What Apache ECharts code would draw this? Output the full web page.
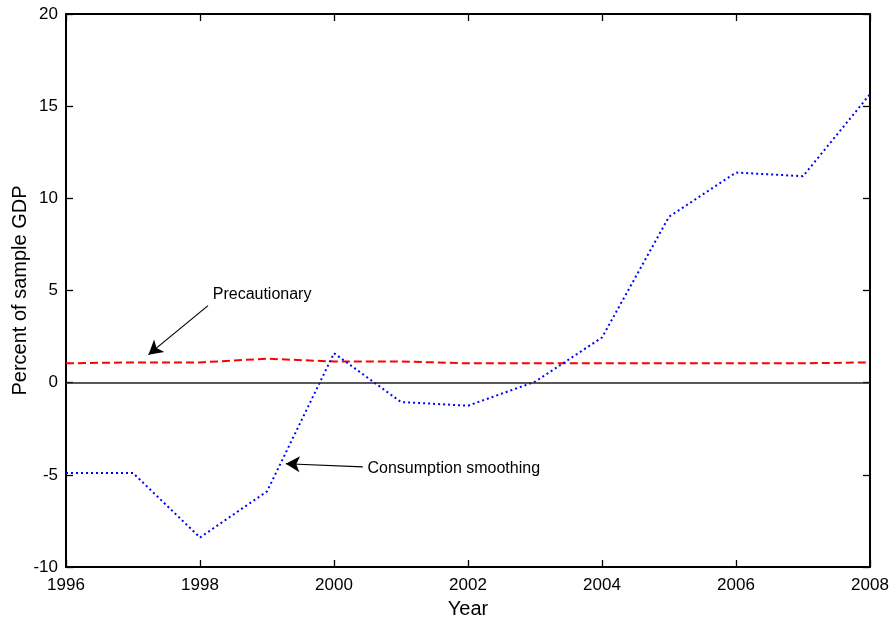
<!DOCTYPE html>
<html><head><meta charset="utf-8">
<script src="https://cdn.jsdelivr.net/npm/echarts@6/dist/echarts.min.js"></script>
<style>html,body{margin:0;padding:0;background:#fff}#c{width:892px;height:628px}</style>
</head><body><div id="c"></div>
<script>
const years = [1996,1997,1998,1999,2000,2001,2002,2003,2004,2005,2006,2007,2008];
const consumption = [-4.9,-4.9,-8.4,-5.9,1.6,-1.05,-1.25,0.05,2.45,9.0,11.4,11.2,15.65];
const precautionary = [1.05,1.1,1.1,1.3,1.15,1.15,1.05,1.05,1.05,1.05,1.05,1.05,1.1];
const yTicks = [-10,-5,0,5,10,15,20];
const xTicks = [1996,1998,2000,2002,2004,2006,2008];
const annPrec = {text:'Precautionary', label:[1998.19,4.78], from:[1998.12,4.18], to:[1997.23,1.52]};
const annCons = {text:'Consumption smoothing', label:[2000.5,-4.67], from:[2000.43,-4.57], to:[1999.28,-4.40]};

const font = 'Liberation Sans, Arial, Helvetica, sans-serif';
const chart = echarts.init(document.getElementById('c'));
const axisBase = {
  axisLine:{show:true,onZero:false,lineStyle:{color:'#000',width:2}},
  axisTick:{show:true,inside:true,length:7,lineStyle:{color:'#000',width:1.3}},
  splitLine:{show:false},
};
const pair = (xs, ys) => xs.map((x,i)=>[x, ys[i]]);
chart.setOption({
  animation:false,
  backgroundColor:'#fff',
  grid:{left:66,right:22,top:14,bottom:61,containLabel:false,outerBoundsMode:'none'},
  xAxis:[
    Object.assign({}, axisBase, {type:'value',min:xTicks[0],max:xTicks[xTicks.length-1],interval:2,position:'bottom',
      name:'Year',nameLocation:'middle',nameGap:32,nameTextStyle:{fontFamily:font,fontSize:20,color:'#000'},
      axisLabel:{fontFamily:font,fontSize:17,color:'#000',margin:10,formatter:v=>String(v)}}),
    Object.assign({}, axisBase, {type:'value',min:xTicks[0],max:xTicks[xTicks.length-1],interval:2,position:'top',axisLabel:{show:false}})
  ],
  yAxis:[
    Object.assign({}, axisBase, {type:'value',min:yTicks[0],max:yTicks[yTicks.length-1],interval:5,position:'left',
      name:'Percent of sample GDP',nameLocation:'middle',nameGap:36,nameMoveOverlap:false,nameTextStyle:{fontFamily:font,fontSize:20,color:'#000'},
      axisLabel:{fontFamily:font,fontSize:17,color:'#000',margin:8}}),
    Object.assign({}, axisBase, {type:'value',min:yTicks[0],max:yTicks[yTicks.length-1],interval:5,position:'right',axisLabel:{show:false}})
  ],
  series:[
    {type:'line',name:'Precautionary',data:pair(years,precautionary),symbol:'none',
     lineStyle:{color:'#ff0000',width:2,type:[8,4]},z:3,
     markLine:{silent:true,symbol:['none','none'],label:{show:false},
       lineStyle:{color:'#222',width:1.5,type:'solid'},
       data:[[{coord:[xTicks[0],0]},{coord:[xTicks[xTicks.length-1],0]}]]}},
    {type:'line',name:'Consumption smoothing',data:pair(years,consumption),symbol:'none',
     lineStyle:{color:'#0000ff',width:2,type:[2,3]},z:4},
    {type:'line',data:[],symbol:'none',
     markLine:{silent:true,symbol:['none','arrow'],symbolSize:[12,14],label:{show:false},
       lineStyle:{color:'#000',width:1.2,type:'solid'},
       data:[[{coord:annPrec.from},{coord:annPrec.to}],[{coord:annCons.from},{coord:annCons.to}]]},
     markPoint:{silent:true,symbol:'circle',symbolSize:0,
       label:{show:true,position:'right',distance:0,fontFamily:font,fontSize:16,color:'#000'},
       data:[{coord:annPrec.label,label:{formatter:annPrec.text}},{coord:annCons.label,label:{formatter:annCons.text}}]}}
  ]
});
</script></body></html>
